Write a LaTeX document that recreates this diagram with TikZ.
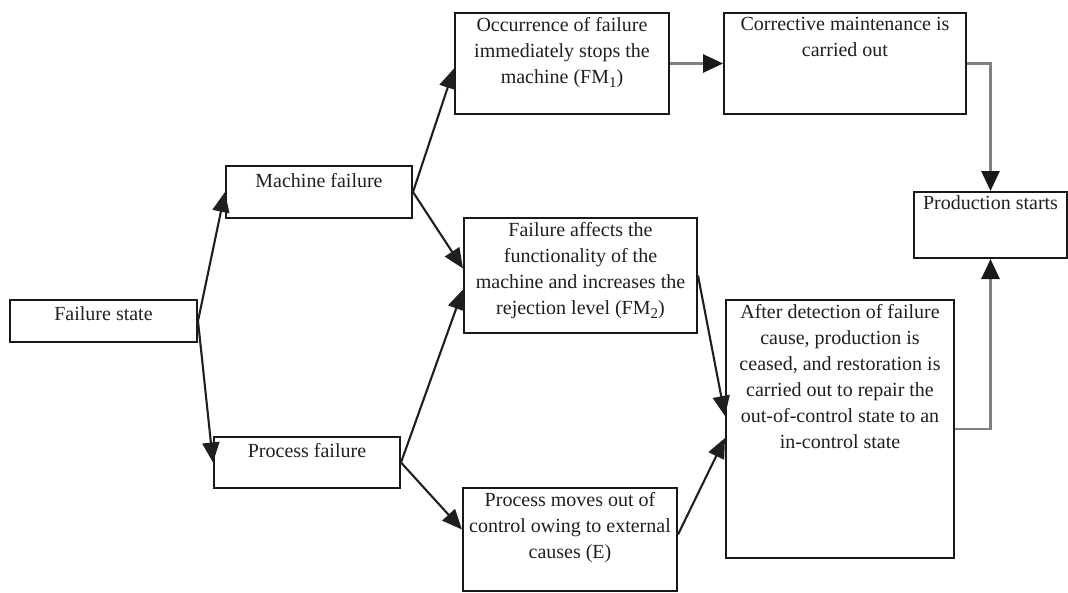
\documentclass[tikz,border=0pt]{standalone}
\usepackage{fontspec}
\setmainfont{Liberation Serif}
\usetikzlibrary{arrows.meta}
% lowered subscript used in the FM labels
\newcommand\fmsub[1]{\raisebox{-0.5ex}{\fontsize{15}{15}\selectfont #1}}
\begin{document}
\begin{tikzpicture}[x=1pt,y=-1pt,
  box/.style={draw=black!90, line width=2pt, inner sep=0pt, anchor=north west},
  lbl/.style={anchor=north, inner sep=0pt, align=center,
              font=\fontsize{20}{26}\selectfont, text=black!88, yshift=-5pt},
  link/.style={draw=black!88, line width=2.1pt, -{Triangle[length=20pt,width=17pt]}},
  glink/.style={draw=black!50, line width=2.8pt,
                -{Triangle[length=20pt,width=18pt,color=black!90]}},
]
\useasboundingbox (0,0) rectangle (1068,592);

% boxes
\node[box, minimum width=187pt, minimum height=42pt]  (fs) at (9,299)   {};
\node[box, minimum width=186pt, minimum height=52pt]  (mf) at (225,165) {};
\node[box, minimum width=186pt, minimum height=51pt]  (pf) at (213,436) {};
\node[box, minimum width=214pt, minimum height=101pt] (oc) at (454,12)  {};
\node[box, minimum width=242pt, minimum height=101pt] (cm) at (723,12)  {};
\node[box, minimum width=233pt, minimum height=115pt] (fa) at (463,217) {};
\node[box, minimum width=214pt, minimum height=103pt] (pm) at (462,487) {};
\node[box, minimum width=228pt, minimum height=258pt] (ad) at (725,299) {};
\node[box, minimum width=153pt, minimum height=66pt]  (ps) at (913,191) {};

% texts, set at the top of each box
\node[lbl, yshift=-2pt] (fst) at (fs.north) {Failure state};
\node[lbl, yshift=-3pt] (mft) at (mf.north) {Machine failure};
\node[lbl, yshift=-2pt] (pft) at (pf.north) {Process failure};
\node[lbl] (oct) at (oc.north) {Occurrence of failure\\immediately stops the\\machine (FM\fmsub{1})};
\node[lbl] (cmt) at (cm.north) {Corrective maintenance is\\carried out};
\node[lbl] (fat) at (fa.north) {Failure affects the\\functionality of the\\machine and increases the\\rejection level (FM\fmsub{2})};
\node[lbl] (pmt) at (pm.north) {Process moves out of\\control owing to external\\causes (E)};
\node[lbl] (adt) at (ad.north) {After detection of failure\\cause, production is\\ceased, and restoration is\\carried out to repair the\\out-of-control state to an\\in-control state};
\node[lbl, yshift=1pt] (pst) at (ps.north) {Production starts};

% connectors
\draw[link] (fs.east) -- (mf.west);
\draw[link] (fs.east) -- (pf.west);
\draw[link] (mf.east) -- ([yshift=-5pt]oc.west);
\draw[link] (mf.east) -- ([yshift=7pt]fa.west);
\draw[link] (pf.east) -- ([yshift=-14pt]fa.west);
\draw[link] (pf.east) -- ([yshift=10pt]pm.west);
\draw[link] (fa.east) -- ([yshift=13pt]ad.west);
\draw[link] ([yshift=5pt]pm.east) -- ([yshift=-9pt]ad.west);

\draw[glink] (oc.east) -- (cm.west);
\draw[glink] (cm.east) -| (ps.north);
\draw[glink] (ad.east) -| (ps.south);
\end{tikzpicture}
\end{document}
